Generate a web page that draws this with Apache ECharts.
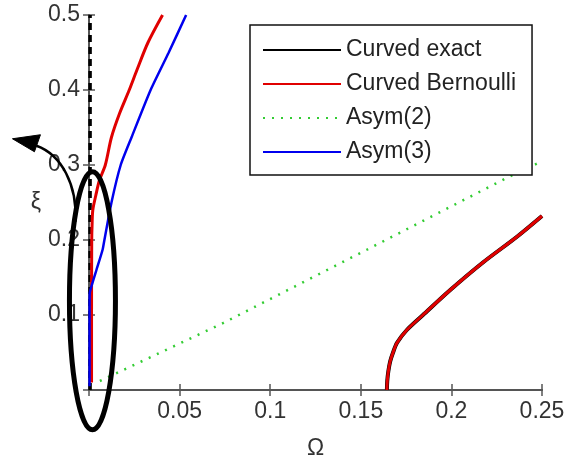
<!DOCTYPE html>
<html>
<head>
<meta charset="utf-8">
<script src="https://cdn.jsdelivr.net/npm/echarts@6/dist/echarts.min.js"></script>
<style>
html,body{margin:0;padding:0;background:#fff;}
#c{width:568px;height:458px;}
</style>
</head>
<body>
<div id="c"></div>
<script>
// ---- data (Omega, xi) ----
const xTicks = [0, 0.05, 0.1, 0.15, 0.2, 0.25];
const yTicks = [0, 0.1, 0.2, 0.3, 0.4, 0.5];

// Curved exact: right branch
const exactRightOmega = [0.1644, 0.1646, 0.1652, 0.1662, 0.1678, 0.1700, 0.1754, 0.1843, 0.1992, 0.2174, 0.2360, 0.2500];
const exactRightXi    = [0.000, 0.012, 0.025, 0.038, 0.050, 0.063, 0.080, 0.100, 0.133, 0.170, 0.204, 0.232];
// Curved exact: branch along the xi axis
const exactLeftOmega = [0.0006, 0.0006];
const exactLeftXi    = [0.0, 0.5];

// Curved Bernoulli: left branch
const bernLeftOmega = [0.0014, 0.0014, 0.0015, 0.0017, 0.0021, 0.0038, 0.0058, 0.0090, 0.0124, 0.0169, 0.0222, 0.0265, 0.0325, 0.0406];
const bernLeftXi    = [0.010, 0.100, 0.200, 0.220, 0.240, 0.260, 0.280, 0.300, 0.337, 0.369, 0.400, 0.427, 0.463, 0.500];
// Curved Bernoulli: right branch
const bernRightOmega = [0.1644, 0.1646, 0.1652, 0.1662, 0.1678, 0.1700, 0.1754, 0.1843, 0.1992, 0.2174, 0.2360, 0.2500];
const bernRightXi    = [0.000, 0.012, 0.025, 0.038, 0.050, 0.063, 0.080, 0.100, 0.133, 0.170, 0.204, 0.232];

// Asym(2)
const asym2Omega = [0.0060, 0.0738, 0.1533, 0.2307, 0.2500];
const asym2Xi    = [0.012, 0.089, 0.187, 0.283, 0.305];

// Asym(3)
const asym3Omega = [0.0003, 0.0003, 0.0003, 0.0004, 0.0022, 0.0041, 0.0075, 0.0085, 0.0124, 0.0175, 0.0235, 0.0340, 0.0440, 0.0536];
const asym3Xi    = [0.005, 0.050, 0.100, 0.129, 0.145, 0.160, 0.187, 0.200, 0.250, 0.300, 0.337, 0.400, 0.450, 0.500];

const names = ['Curved exact', 'Curved Bernoulli', 'Asym(2)', 'Asym(3)'];

const zip = (a, b) => a.map((v, i) => [v, b[i]]);
const FONT = 'Liberation Sans, Arial, sans-serif';

const chart = echarts.init(document.getElementById('c'), null, {renderer: 'canvas'});

const axisLine = {show: true, lineStyle: {color: '#555', width: 2}};
const tick = {show: true, inside: true, length: 6, lineStyle: {color: '#555', width: 1.5}};
const lbl = {color: '#333', fontSize: 23, fontFamily: FONT};

const xMin = xTicks[0], xMax = xTicks[xTicks.length - 1], xInt = xTicks[1] - xTicks[0];
const yMin = yTicks[0], yMax = yTicks[yTicks.length - 1], yInt = yTicks[1] - yTicks[0];

function lineSeries(name, data, color, width, type, z, smooth) {
  return {
    name: name, type: 'line', data: data, symbol: 'none', symbolSize: 0,
    smooth: smooth || false,
    xAxisIndex: 0, yAxisIndex: 0, z: z || 2,
    lineStyle: {color: color, width: width, type: type || 'solid'},
    itemStyle: {color: color},
    emphasis: {disabled: true}, animation: false
  };
}

chart.setOption({
  backgroundColor: '#fff',
  animation: false,
  grid: {left: 89, right: 26, top: 15, bottom: 68, containLabel: false, outerBoundsMode: 'none'},
  xAxis: [
    {type: 'value', min: xMin, max: xMax, interval: xInt, position: 'bottom',
     axisLine: axisLine, axisTick: tick, splitLine: {show: false},
     axisLabel: Object.assign({margin: 10, showMinLabel: false}, lbl),
     name: 'Ω', nameLocation: 'middle', nameGap: 47,
     nameTextStyle: {color: '#333', fontSize: 23, fontFamily: FONT}},
    {type: 'value', min: xMin, max: xMax, interval: xInt, position: 'top',
     axisLine: axisLine, axisTick: tick, splitLine: {show: false},
     axisLabel: {show: false}}
  ],
  yAxis: [
    {type: 'value', min: yMin, max: yMax, interval: yInt, position: 'left',
     axisLine: axisLine, axisTick: tick, splitLine: {show: false},
     axisLabel: Object.assign({margin: 9, showMinLabel: false}, lbl),
     name: 'ξ', nameLocation: 'middle', nameGap: 48, nameRotate: 0,
     nameTextStyle: {color: '#333', fontSize: 23, fontFamily: FONT, padding: [0, 0, 40, 0]}},
    {type: 'value', min: yMin, max: yMax, interval: yInt, position: 'right',
     axisLine: axisLine, axisTick: tick, splitLine: {show: false},
     axisLabel: {show: false}}
  ],
  legend: {
    orient: 'vertical', left: 250, top: 25,
    data: names,
    itemWidth: 78, itemHeight: 14, itemGap: 10,
    padding: [13, 16, 11, 12],
    itemStyle: {opacity: 0, borderWidth: 0},
    backgroundColor: '#fff', borderColor: '#111', borderWidth: 1.5, borderRadius: 0,
    textStyle: {color: '#222', fontSize: 23, fontFamily: FONT, lineHeight: 24},
    selectedMode: false, z: 10
  },
  series: [
    lineSeries(names[0], zip(exactRightOmega, exactRightXi), '#000', 4, 'solid', 2, 0.3),
    lineSeries(names[0], zip(exactLeftOmega, exactLeftXi), '#000', 3.5, [7, 5], 2),
    lineSeries(names[1], zip(bernLeftOmega, bernLeftXi), '#e00000', 3, 'solid', 3, 0.3),
    lineSeries(names[1], zip(bernRightOmega, bernRightXi), '#e00000', 3, 'solid', 3, 0.3),
    lineSeries(names[2], zip(asym2Omega, asym2Xi), '#33cc33', 2.5, [2, 7], 3),
    lineSeries(names[3], zip(asym3Omega, asym3Xi), '#0000ee', 2.5, 'solid', 4, 0.2)
  ]
});

// annotation: ellipse around the region near Omega = 0, and a curved arrow
const c = chart.convertToPixel({xAxisIndex: 0, yAxisIndex: 0}, [0.0019, 0.119]);
const cx = c[0], cy = c[1];
chart.setOption({
  graphic: [
    {type: 'ellipse', z: 100, silent: true,
     shape: {cx: cx, cy: cy, rx: 23, ry: 129},
     style: {fill: 'none', stroke: '#000', lineWidth: 5}},
    {type: 'bezierCurve', z: 100, silent: true,
     shape: {x1: cx - 17, y1: cy - 79, cpx1: cx - 15, cpy1: cy - 116, cpx2: cx - 31, cpy2: cy - 146, x2: cx - 56, y2: cy - 155},
     style: {fill: 'none', stroke: '#000', lineWidth: 2.5}},
    {type: 'polygon', z: 100, silent: true,
     shape: {points: [[cx - 80, cy - 162], [cx - 52, cy - 166], [cx - 58, cy - 149]]},
     style: {fill: '#000', stroke: '#000', lineWidth: 1}}
  ]
});
</script>
</body>
</html>
